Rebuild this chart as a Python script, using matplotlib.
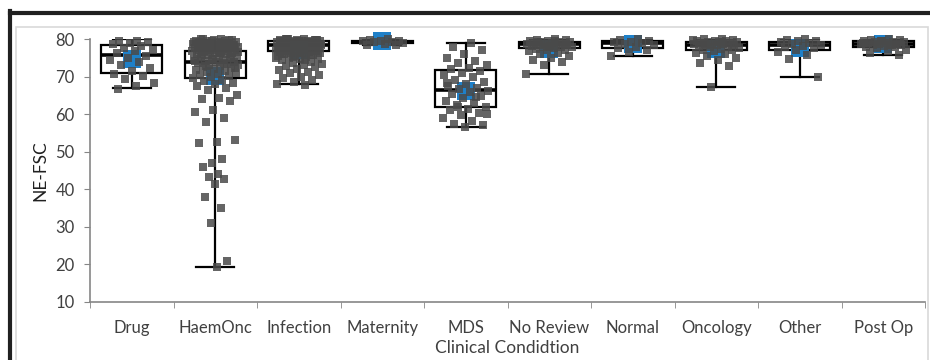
import numpy as np
import matplotlib
matplotlib.use('Agg')
import matplotlib.pyplot as plt
from matplotlib.lines import Line2D
from matplotlib.patches import Rectangle

# categories and the NE-FSC readings per clinical condition
categories = ['Drug', 'HaemOnc', 'Infection', 'Maternity', 'MDS',
              'No Review', 'Normal', 'Oncology', 'Other', 'Post Op']

drug = [79.6, 79.4, 79.1, 78.9, 78.6, 78.1, 77.6, 77.2, 76.8, 76.2, 75.6,
        75.0, 74.4, 73.8, 73.2, 72.4, 71.6, 70.8, 70.2, 69.4, 68.3, 67.4, 66.8]

haem_onc = [80.0, 79.9, 79.8, 79.7, 79.6, 79.5, 79.4, 79.3, 79.2, 79.1, 79.0,
            78.9, 78.8, 78.7, 78.6, 78.5, 78.4, 78.3, 78.2, 78.1, 78.0, 77.9,
            77.8, 77.7, 77.6, 77.5, 77.4, 77.3, 77.2, 77.1, 77.0, 76.9, 76.8,
            76.7, 76.6, 76.5, 76.4, 76.2, 76.0, 75.9, 75.7, 75.5, 75.4, 75.2,
            75.0, 74.8, 74.6, 74.4, 74.2, 74.0, 73.8, 73.6, 73.4, 73.2, 73.0,
            72.8, 72.6, 72.3, 72.0, 71.8, 71.5, 71.2, 71.0, 70.7, 70.4, 70.1,
            69.8, 69.5, 69.1, 68.7, 68.3, 67.9, 67.4, 67.0, 66.4, 65.0, 64.3,
            64.0, 63.6, 61.0, 60.5, 59.0, 57.8, 53.0, 52.5, 52.4, 48.0, 47.0,
            46.0, 44.0, 43.2, 42.8, 41.5, 38.0, 35.0, 31.0, 21.0, 19.2,
            79.9, 79.7, 79.5, 79.2, 78.9, 78.6, 78.3, 78.0, 77.7, 77.4, 77.0,
            76.6, 76.2, 75.8, 75.3, 74.7, 74.1, 73.5, 72.9, 72.2]

infection = [80.0, 79.9, 79.8, 79.8, 79.7, 79.6, 79.6, 79.5, 79.4, 79.4, 79.3,
             79.2, 79.1, 79.0, 79.0, 78.9, 78.8, 78.7, 78.6, 78.5, 78.4, 78.3,
             78.2, 78.1, 78.0, 77.9, 77.8, 77.7, 77.6, 77.5, 77.4, 77.3, 77.2,
             77.1, 77.0, 76.9, 76.8, 76.7, 76.6, 76.5, 76.4, 76.3, 76.2, 76.0,
             75.8, 75.6, 75.4, 75.2, 75.0, 74.8, 74.6, 74.3, 74.0, 73.7, 73.4,
             73.1, 72.8, 72.5, 72.1, 71.7, 71.3, 70.9, 70.5, 70.0, 69.5, 69.0,
             68.5, 68.0, 67.7, 79.9, 79.7, 79.5, 79.3, 79.1, 78.9, 78.7, 78.5,
             78.3, 78.1, 77.9, 77.6, 77.3, 77.0, 76.7, 76.4, 76.1, 75.7, 75.3,
             74.9, 74.5, 80.0, 79.8, 79.6, 79.4, 79.2, 79.0, 78.8, 78.6]

maternity = [80.0, 79.8, 79.6, 79.5, 79.4, 79.3, 79.2, 79.0, 78.8, 78.5, 78.3]

mds = [79.0, 78.0, 77.0, 76.0, 75.0, 74.2, 73.5, 73.0, 72.4, 72.0, 71.5, 71.0,
       70.3, 69.8, 69.2, 68.6, 68.0, 67.5, 67.0, 66.6, 66.2, 65.8, 65.3, 64.8,
       64.2, 63.6, 63.0, 62.5, 62.0, 61.5, 61.0, 60.4, 59.8, 59.0, 58.2, 57.5,
       57.0, 56.6, 68.4, 64.6, 61.8, 60.0]

no_review = [80.0, 79.8, 79.7, 79.5, 79.4, 79.3, 79.2, 79.1, 79.0, 78.9, 78.8,
             78.7, 78.6, 78.5, 78.4, 78.3, 78.2, 78.1, 78.0, 77.9, 77.8, 77.6,
             77.4, 77.2, 77.0, 76.7, 76.4, 76.0, 75.5, 75.0, 74.5, 73.8, 73.0,
             70.8, 79.6, 79.1, 78.6, 78.0]

normal = [79.9, 79.7, 79.5, 79.3, 79.1, 78.9, 78.6, 78.3, 78.0, 77.6, 77.2,
          76.5, 75.6]

oncology = [80.0, 79.9, 79.7, 79.6, 79.5, 79.4, 79.3, 79.2, 79.1, 79.0, 78.9,
            78.8, 78.7, 78.6, 78.5, 78.4, 78.3, 78.2, 78.0, 77.8, 77.6, 77.4,
            77.2, 77.0, 76.7, 76.4, 76.0, 75.6, 75.0, 74.3, 73.5, 72.8, 67.2,
            79.8, 79.2, 78.6]

other = [80.0, 79.8, 79.6, 79.4, 79.2, 79.0, 78.8, 78.5, 78.2, 77.9, 77.5,
         77.0, 76.5, 75.8, 74.8, 70.0]

post_op = [80.0, 79.8, 79.7, 79.5, 79.4, 79.3, 79.2, 79.1, 79.0, 78.9, 78.8,
           78.7, 78.6, 78.5, 78.4, 78.3, 78.2, 78.0, 77.8, 77.5, 77.2, 76.8,
           76.3, 75.7, 79.6, 79.0, 78.4]

groups = [drug, haem_onc, infection, maternity, mds,
          no_review, normal, oncology, other, post_op]

# box and whisker summary (min/max whiskers)
q1 = [71.0, 69.7, 76.7, 78.9, 62.0, 77.7, 77.6, 77.2, 77.0, 78.0]
median = [75.8, 74.0, 78.3, 79.3, 66.3, 78.6, 79.0, 78.4, 78.3, 78.8]
q3 = [78.5, 76.8, 79.6, 79.6, 71.8, 79.3, 79.6, 79.1, 79.3, 79.6]
whis_lo = [67.0, 19.2, 68.0, 78.3, 56.6, 70.8, 75.6, 67.3, 70.0, 75.8]
whis_hi = [79.9, 80.0, 80.0, 80.0, 79.0, 80.0, 80.0, 80.0, 80.0, 80.0]
means = [74.7, 70.2, 77.2, 79.4, 66.2, 77.4, 78.6, 77.3, 77.6, 78.6]

plt.rcParams['font.family'] = ['Lato', 'DejaVu Sans']

fig = plt.figure(figsize=(9.3, 3.6), dpi=100)
ax = fig.add_axes([90 / 930, 1 - 302 / 360, 835 / 930, 263 / 360])

pos = np.arange(1, len(categories) + 1)
stats = []
for i in range(len(categories)):
    stats.append({'q1': q1[i], 'med': median[i], 'q3': q3[i],
                  'whislo': whis_lo[i], 'whishi': whis_hi[i], 'fliers': []})

ax.bxp(stats, positions=pos, widths=0.73, patch_artist=True,
       showfliers=False,
       boxprops=dict(facecolor='white', edgecolor='black', linewidth=1.6),
       medianprops=dict(color='black', linewidth=2.6),
       whiskerprops=dict(color='black', linewidth=1.6),
       capprops=dict(color='black', linewidth=1.6),
       capwidths=0.45, zorder=1)

# mean markers
ax.scatter(pos, means, marker='s', s=160, color='#1f80c8', zorder=2,
           linewidths=0, clip_on=False)

# jittered points, spread with a golden ratio sequence
golden = 0.6180339887
for i, vals in enumerate(groups):
    n = len(vals)
    offs = np.array([((k + 1) * golden) % 1.0 for k in range(n)])
    # sparse low values sit closer to the centre line
    width = np.where(np.array(vals) < 50, 0.3, 0.56)
    xs = pos[i] + (offs - 0.5) * width
    ax.scatter(xs, vals, marker='s', s=30, color='#4a4a4a', alpha=0.85,
               linewidths=0, zorder=3, clip_on=False)

ax.set_xlim(0.5, len(categories) + 0.5)
ax.set_ylim(10, 80)
ax.set_yticks(range(10, 90, 10))
ax.set_xticks(pos)
ax.set_xticklabels(categories)
ax.set_xticks(np.arange(0.5, len(categories) + 1, 1.0), minor=True)
ax.tick_params(axis='x', which='major', length=0, pad=13, labelsize=12,
               labelcolor='#404040')
ax.tick_params(axis='x', which='minor', length=4, color='#868686',
               direction='out')
ax.tick_params(axis='y', length=4, color='#868686', labelsize=12,
               labelcolor='#404040', pad=7)

for side in ['top', 'right']:
    ax.spines[side].set_visible(False)
for side in ['left', 'bottom']:
    ax.spines[side].set_color('#868686')
    ax.spines[side].set_linewidth(1.2)

ax.set_ylabel('NE-FSC', fontsize=12.5, color='#202020', labelpad=5)
ax.set_xlabel('Clinical Condidtion', fontsize=12.5, color='#404040',
              labelpad=3)

# outer frame: thick dark line on top and left, light border inside
fig.add_artist(Line2D([10 / 930, 1.0], [1 - 13 / 360, 1 - 13 / 360],
                      color='#202020', linewidth=3, transform=fig.transFigure))
fig.add_artist(Line2D([10 / 930, 10 / 930], [1 - 11 / 360, 0.0],
                      color='#202020', linewidth=3, transform=fig.transFigure))
fig.add_artist(Rectangle((16 / 930, -0.1), 912 / 930, 1.1 - 27 / 360,
                         fill=False, edgecolor='#d9d9d9', linewidth=1.2,
                         transform=fig.transFigure))

fig.savefig('out.png', dpi=100)
